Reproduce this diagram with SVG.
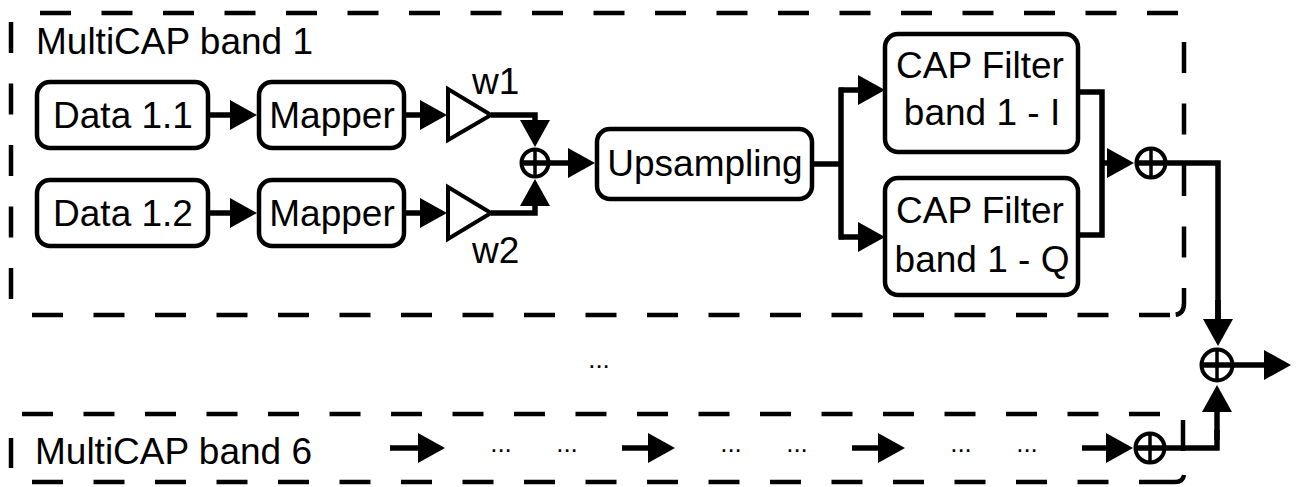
<svg xmlns="http://www.w3.org/2000/svg" width="1299" height="487" viewBox="0 0 1299 487">
<style>
.dash{fill:none;stroke:#000;stroke-width:4.5;stroke-dasharray:31 30.5}
.box{fill:#fff;stroke:#000;stroke-width:4.5}
.amp{fill:#fff;stroke:#000;stroke-width:4;stroke-linejoin:miter}
.sum{fill:#fff;stroke:#000;stroke-width:4}
.ln{fill:none;stroke:#000;stroke-width:5.5}
.xl{fill:none;stroke:#000;stroke-width:3.5}
.arr{fill:none;stroke:#000;stroke-width:5.5;marker-end:url(#ah)}
text{font-family:"Liberation Sans",Arial,sans-serif;font-size:37px;fill:#000}
.c{text-anchor:middle}
.dots{font-size:26px;text-anchor:middle}
</style>
<defs>
<marker id="ah" markerUnits="userSpaceOnUse" markerWidth="28" markerHeight="30" refX="1" refY="15" orient="auto">
<path d="M0,0 L27,15 L0,30 z" fill="#000"/>
</marker>
</defs>
<rect width="1299" height="487" fill="#fff"/>
<g id="band1-frame">
<line class="dash" x1="40" y1="13" x2="1178" y2="13"/>
<path class="dash" d="M1184,42 V303 Q1184,315 1173,315"/>
<line class="dash" x1="1170" y1="315" x2="32" y2="315"/>
<line class="dash" x1="11" y1="22" x2="11" y2="299"/>
<text x="36" y="54">MultiCAP band 1</text>
</g>
<g id="band6-frame">
<line class="dash" x1="22" y1="414" x2="1160" y2="414"/>
<line class="dash" x1="32" y1="482" x2="1139" y2="482"/>
<path fill="none" stroke="#000" stroke-width="4.5" d="M1139,482 H1175 Q1183,482 1184,475"/>
<line class="dash" x1="11" y1="438" x2="11" y2="468"/>
<line class="dash" x1="1183" y1="420" x2="1183" y2="452"/>
<text x="35" y="464">MultiCAP band 6</text>
</g>
<g id="data11"><rect class="box" x="37" y="82" width="171" height="66" rx="13"/><text class="c" x="123" y="128">Data 1.1</text></g>
<g id="data12"><rect class="box" x="37" y="180" width="171" height="66" rx="13"/><text class="c" x="123" y="226">Data 1.2</text></g>
<g id="mapper1"><rect class="box" x="259" y="82" width="145" height="66" rx="13"/><text class="c" x="332" y="128">Mapper</text></g>
<g id="mapper2"><rect class="box" x="259" y="180" width="145" height="66" rx="13"/><text class="c" x="332" y="226">Mapper</text></g>
<g id="amp1"><polygon class="amp" points="448,89 448,140 491,115"/><text x="472" y="94">w1</text></g>
<g id="amp2"><polygon class="amp" points="448,187 448,239 491,213"/><text x="472" y="263">w2</text></g>
<g id="sum1"><circle class="sum" cx="535" cy="163" r="13.5"/></g>
<g id="upsampling"><rect class="box" x="597" y="129" width="215" height="70" rx="13"/><text class="c" x="705" y="176">Upsampling</text></g>
<g id="capI"><rect class="box" x="885" y="34" width="193" height="118" rx="13"/><text class="c" x="980" y="78">CAP Filter</text><text class="c" x="982" y="125">band 1 - I</text></g>
<g id="capQ"><rect class="box" x="885" y="178" width="193" height="117" rx="13"/><text class="c" x="980" y="223">CAP Filter</text><text class="c" x="982" y="272">band 1 - Q</text></g>
<g id="sum2"><circle class="sum" cx="1151" cy="163" r="14.5"/></g>
<g id="sum3"><circle class="sum" cx="1217" cy="365" r="15.5"/></g>
<g id="sum6"><circle class="sum" cx="1150" cy="448" r="14.5"/></g>
<g id="ellipses">
<text class="dots" x="599" y="368">...</text>
<text class="dots" x="501" y="452">...</text>
<text class="dots" x="567" y="452">...</text>
<text class="dots" x="731" y="452">...</text>
<text class="dots" x="797" y="452">...</text>
<text class="dots" x="961" y="452">...</text>
<text class="dots" x="1027" y="452">...</text>
</g>
<g id="connectors">
<path class="arr" d="M208,115 H231"/>
<path class="arr" d="M404,115 H421"/>
<path class="arr" d="M208,213 H231"/>
<path class="arr" d="M404,213 H421"/>
<path class="arr" d="M491,115 H535 V121"/>
<path class="arr" d="M491,213 H535 V205"/>
<line class="xl" x1="535" y1="148" x2="535" y2="178"/>
<path class="arr" d="M521,163 H569"/>
<path class="ln" d="M812,164 H841"/>
<path class="ln" d="M841,87.5 V239.5"/>
<path class="arr" d="M839,90 H859"/>
<path class="arr" d="M839,237 H859"/>
<path class="ln" d="M1078,92 H1102 V235 H1078"/>
<path class="arr" d="M1100,163 H1108"/>
<line class="xl" x1="1151" y1="149" x2="1151" y2="177"/>
<path class="ln" d="M1137,163 H1218 V320"/>
<path class="arr" d="M1218,300 V320"/>
<line class="xl" x1="1217" y1="350" x2="1217" y2="380"/>
<path class="arr" d="M1202,365 H1265"/>
<path class="ln" d="M1136,448 H1217 V430"/>
<path class="arr" d="M1217,440 V411"/>
<line class="xl" x1="1150" y1="434" x2="1150" y2="462"/>
<path class="arr" d="M1082,448 H1107"/>
<path class="arr" d="M390,448 H419"/>
<path class="arr" d="M622,448 H649"/>
<path class="arr" d="M852,448 H879"/>
</g>
</svg>
